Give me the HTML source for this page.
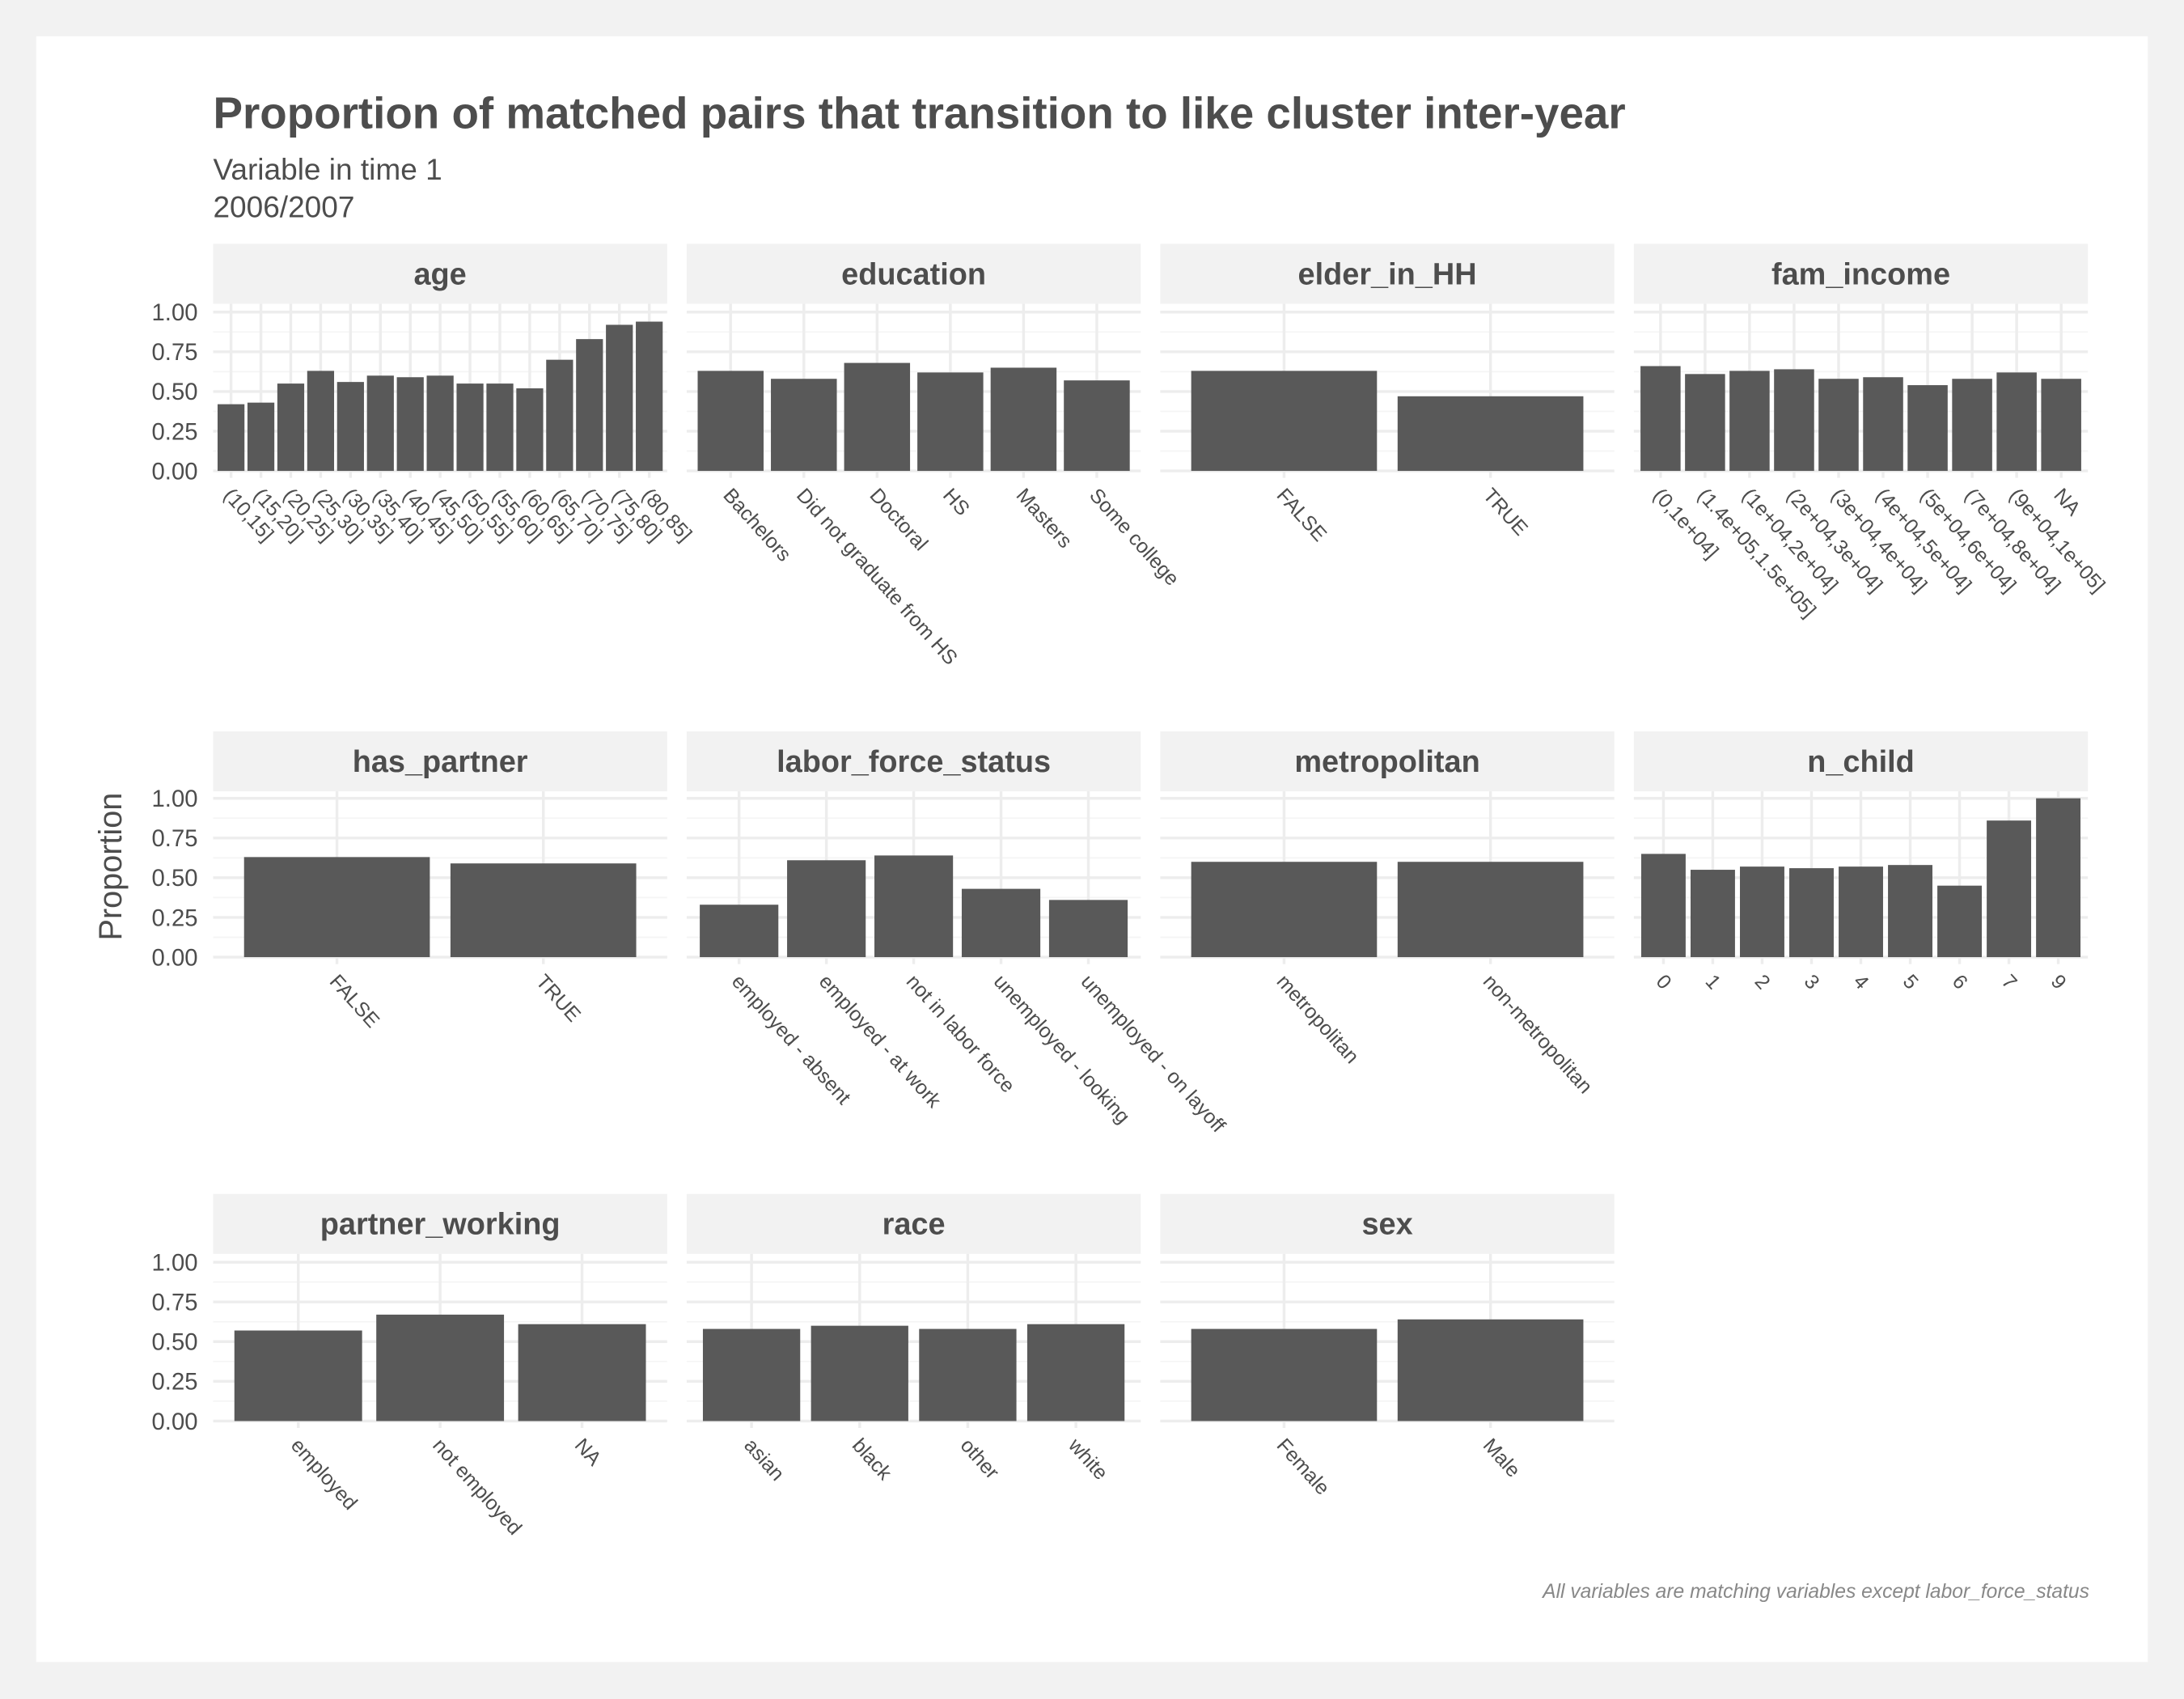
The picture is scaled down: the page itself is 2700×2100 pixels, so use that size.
<!DOCTYPE html>
<html><head><meta charset="utf-8"><style>
html,body{margin:0;padding:0;background:#f2f2f2;}
svg{display:block;font-family:"Liberation Sans",sans-serif;}
</style></head><body>
<svg id="chart" width="2700" height="2100" viewBox="0 0 1568 1219.5" xmlns="http://www.w3.org/2000/svg">
<rect x="0" y="0" width="1568" height="1220" fill="#f2f2f2"/>
<rect x="26" y="26" width="1516" height="1167" fill="#ffffff"/>
<text x="153" y="92" font-size="31.8" font-weight="bold" fill="#4d4d4d">Proportion of matched pairs that transition to like cluster inter-year</text>
<text x="153" y="129" font-size="21.5" fill="#4d4d4d">Variable in time 1</text>
<text x="153" y="156" font-size="21.5" fill="#4d4d4d">2006/2007</text>
<text transform="translate(87,622) rotate(-90)" text-anchor="middle" font-size="23" fill="#4d4d4d">Proportion</text>
<text x="1500" y="1147" text-anchor="end" font-size="14.3" font-style="italic" fill="#888">All variables are matching variables except labor_force_status</text>
<g id="panels"></g>
</svg>
<script>
const facetNames = ["age","education","elder_in_HH","fam_income","has_partner","labor_force_status","metropolitan","n_child","partner_working","race","sex"];
const ageCats = ["(10,15]","(15,20]","(20,25]","(25,30]","(30,35]","(35,40]","(40,45]","(45,50]","(50,55]","(55,60]","(60,65]","(65,70]","(70,75]","(75,80]","(80,85]"];
const ageVals = [0.42,0.43,0.55,0.63,0.56,0.60,0.59,0.60,0.55,0.55,0.52,0.70,0.83,0.92,0.94];
const eduCats = ["Bachelors","Did not graduate from HS","Doctoral","HS","Masters","Some college"];
const eduVals = [0.63,0.58,0.68,0.62,0.65,0.57];
const elderCats = ["FALSE","TRUE"];
const elderVals = [0.63,0.47];
const incCats = ["(0,1e+04]","(1.4e+05,1.5e+05]","(1e+04,2e+04]","(2e+04,3e+04]","(3e+04,4e+04]","(4e+04,5e+04]","(5e+04,6e+04]","(7e+04,8e+04]","(9e+04,1e+05]","NA"];
const incVals = [0.66,0.61,0.63,0.64,0.58,0.59,0.54,0.58,0.62,0.58];
const partnerCats = ["FALSE","TRUE"];
const partnerVals = [0.63,0.59];
const laborCats = ["employed - absent","employed - at work","not in labor force","unemployed - looking","unemployed - on layoff"];
const laborVals = [0.33,0.61,0.64,0.43,0.36];
const metroCats = ["metropolitan","non-metropolitan"];
const metroVals = [0.60,0.60];
const childCats = ["0","1","2","3","4","5","6","7","9"];
const childVals = [0.65,0.55,0.57,0.56,0.57,0.58,0.45,0.86,1.00];
const pwCats = ["employed","not employed","NA"];
const pwVals = [0.57,0.67,0.61];
const raceCats = ["asian","black","other","white"];
const raceVals = [0.58,0.60,0.58,0.61];
const sexCats = ["Female","Male"];
const sexVals = [0.58,0.64];
const yTicks = [0,0.25,0.5,0.75,1];
const yTickLabels = ["0.00","0.25","0.50","0.75","1.00"];

const facetCats = [ageCats,eduCats,elderCats,incCats,partnerCats,laborCats,metroCats,childCats,pwCats,raceCats,sexCats];
const facetVals = [ageVals,eduVals,elderVals,incVals,partnerVals,laborVals,metroVals,childVals,pwVals,raceVals,sexVals];

const NS = "http://www.w3.org/2000/svg";
const root = document.getElementById("panels");
function mk(tag, attrs, parent){const e=document.createElementNS(NS,tag);for(const k in attrs)e.setAttribute(k,attrs[k]);parent.appendChild(e);return e;}
const colX = [153,493,833,1173];
const rowZero = [338,687,1020];
const rowStrip = [175,525,857];
const PW = 326, UNIT = 114;

facetNames.forEach((name,i)=>{
  const col=i%4,row=Math.floor(i/4);
  const x0=colX[col], y0=rowZero[row];
  const cats=facetCats[i], vals=facetVals[i], n=cats.length;
  const yScale=v=>y0-v*UNIT;
  const w=PW/(n-1+1.2);
  const xScale=k=>x0+w*(0.6+k);
  const g=mk("g",{},root);
  
  
  const strip=mk("rect",{x:x0,y:rowStrip[row],width:PW,height:43,fill:"#f2f2f2"},g);
  
  
  const st=mk("text",{x:x0+PW/2,y:rowStrip[row]+29,"text-anchor":"middle","font-size":"22","font-weight":"bold",fill:"#4d4d4d"},g);
  st.textContent=name;
  
  
  const top=rowStrip[row]+43, bot=y0+5;
  for(let k=0;k<4;k++){const v=0.125+0.25*k;const l=mk("line",{x1:x0,x2:x0+PW,y1:yScale(v),y2:yScale(v),stroke:"#f5f5f5","stroke-width":"1"},g);
    }
  yTicks.forEach(v=>{const l=mk("line",{x1:x0,x2:x0+PW,y1:yScale(v),y2:yScale(v),stroke:"#ededed","stroke-width":"2"},g);
    });
  cats.forEach((c,k)=>{const l=mk("line",{x1:xScale(k),x2:xScale(k),y1:top,y2:bot,stroke:"#ededed","stroke-width":"2"},g);
    });
  if(col===0){
    yTicks.forEach((v,k)=>{const t=mk("text",{x:x0-11,y:yScale(v)+6,"text-anchor":"end","font-size":"17",fill:"#4d4d4d"},g);
      t.textContent=yTickLabels[k];
      });
  }
  cats.forEach((c,k)=>{
    const b=mk("rect",{x:xScale(k)-0.45*w,y:yScale(vals[k]),width:0.9*w,height:yScale(0)-yScale(vals[k]),fill:"#595959"},g);
    
    
    const tx=xScale(k)-6, ty=y0+18;
    const t=mk("text",{transform:`translate(${tx},${ty}) rotate(48)`,"font-size":"14.5",fill:"#4d4d4d"},g);
    t.textContent=c;
    
    
  });
});
</script>
</body></html>
